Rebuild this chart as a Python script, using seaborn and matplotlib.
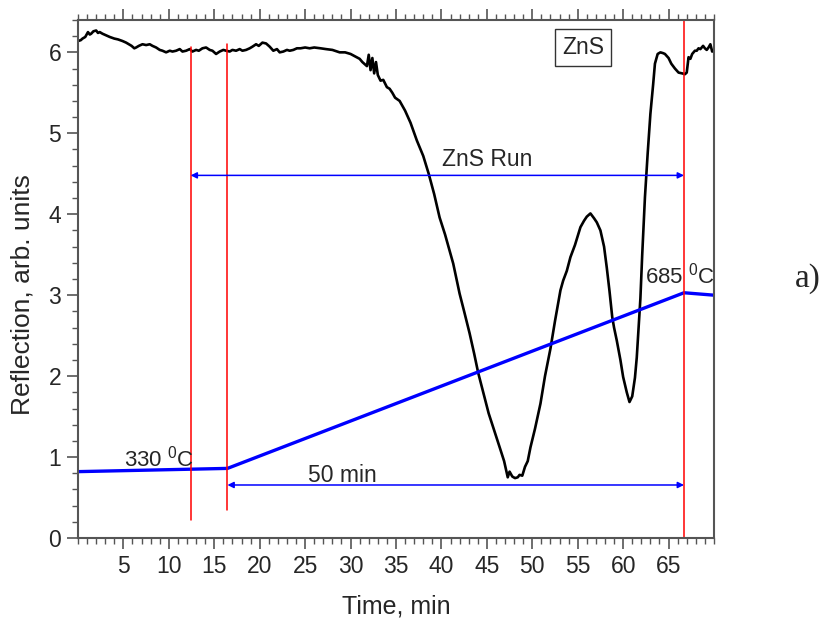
import matplotlib
matplotlib.use("Agg")
from matplotlib import pyplot as plt
from matplotlib.ticker import MultipleLocator, FixedLocator
import pandas as pd
import seaborn as sns

# reflection trace, (time in min, reflection) pairs
trace = [
    (0.0, 6.14), (0.3, 6.15), (0.5, 6.17), (0.8, 6.19), (1.1, 6.25), (1.3, 6.22),
    (1.45, 6.23), (1.7, 6.26), (2.0, 6.27), (2.2, 6.24), (2.4, 6.25), (2.7, 6.23),
    (3.1, 6.21), (3.5, 6.19), (4.0, 6.17), (4.4, 6.16), (4.9, 6.14), (5.3, 6.12),
    (5.6, 6.10), (5.9, 6.08), (6.2, 6.05), (6.4, 6.06), (6.7, 6.08), (7.1, 6.10),
    (7.5, 6.09), (7.9, 6.10), (8.2, 6.08), (8.6, 6.06), (9.0, 6.03), (9.3, 6.02),
    (9.7, 6.00), (10.1, 6.02), (10.4, 6.01), (10.8, 6.02), (11.2, 6.04), (11.5, 6.01),
    (11.9, 6.02), (12.3, 6.04), (12.6, 6.01), (13.0, 6.03), (13.3, 6.02), (13.7, 6.05),
    (14.1, 6.06), (14.5, 6.03), (14.8, 6.02), (15.2, 5.98), (15.6, 6.01), (16.0, 6.03),
    (16.3, 6.02), (16.7, 6.01), (17.0, 6.03), (17.4, 6.02), (17.8, 6.04), (18.1, 6.02),
    (18.5, 6.03), (18.9, 6.05), (19.2, 6.07), (19.6, 6.10), (19.9, 6.08), (20.3, 6.12),
    (20.7, 6.11), (21.1, 6.07), (21.5, 6.02), (21.9, 6.04), (22.2, 6.00), (22.6, 6.01),
    (23.0, 6.03), (23.3, 6.02), (23.7, 6.03), (24.1, 6.05), (24.5, 6.05), (25.0, 6.06),
    (25.5, 6.05), (26.0, 6.06), (26.7, 6.05), (27.3, 6.04), (28.0, 6.03), (28.8, 6.00),
    (29.4, 6.00), (30.0, 5.98), (30.5, 5.95), (31.0, 5.92), (31.3, 5.88), (31.6, 5.85),
    (31.8, 5.83), (32.0, 5.97), (32.2, 5.78), (32.4, 5.93), (32.6, 5.74), (32.8, 5.88),
    (33.0, 5.72), (33.3, 5.65), (33.6, 5.66), (34.0, 5.57), (34.3, 5.55), (34.6, 5.50),
    (34.9, 5.44), (35.4, 5.40), (36.0, 5.28), (36.6, 5.13), (37.3, 4.91), (38.0, 4.72),
    (38.6, 4.50), (39.2, 4.25), (39.8, 3.96), (40.4, 3.75), (40.9, 3.55), (41.3, 3.39),
    (42.0, 3.02), (42.5, 2.80), (43.1, 2.53), (43.6, 2.28), (44.05, 2.04), (44.6, 1.80),
    (45.2, 1.54), (45.9, 1.30), (46.5, 1.09), (46.9, 0.95), (47.3, 0.75), (47.5, 0.82),
    (47.8, 0.76), (48.1, 0.74), (48.4, 0.75), (48.6, 0.78), (48.9, 0.77), (49.2, 0.88),
    (49.5, 0.95), (49.8, 1.12), (50.3, 1.35), (50.9, 1.66), (51.4, 2.00), (52.0, 2.34),
    (52.5, 2.68), (53.1, 3.06), (53.4, 3.18), (53.8, 3.30), (54.2, 3.47), (54.7, 3.62),
    (55.3, 3.84), (55.7, 3.92), (56.0, 3.97), (56.4, 4.01), (56.8, 3.95), (57.1, 3.90),
    (57.5, 3.80), (57.9, 3.60), (58.2, 3.34), (58.5, 3.05), (58.8, 2.73), (59.0, 2.60),
    (59.3, 2.44), (59.7, 2.20), (60.0, 1.99), (60.4, 1.80), (60.7, 1.68), (61.0, 1.75),
    (61.3, 1.98), (61.5, 2.23), (61.9, 2.96), (62.1, 3.50), (62.4, 4.21), (62.7, 4.75),
    (63.0, 5.24), (63.3, 5.60), (63.5, 5.86), (63.8, 5.98), (64.1, 6.00), (64.4, 5.99),
    (64.6, 5.98), (65.0, 5.93), (65.3, 5.86), (65.7, 5.80), (66.1, 5.75), (66.5, 5.74),
    (66.8, 5.73), (67.0, 5.75), (67.2, 5.94), (67.4, 5.92), (67.6, 5.98), (67.9, 6.02),
    (68.1, 6.02), (68.3, 6.05), (68.5, 6.04), (68.8, 6.08), (69.0, 6.05), (69.2, 6.03),
    (69.4, 6.06), (69.6, 6.10), (69.8, 6.01), (70.0, 6.02),
]
time_min = [p[0] for p in trace]
reflection = [p[1] for p in trace]

# heater temperature ramp (drawn on the same scale)
ramp_time = [0.0, 16.45, 66.7, 70.0]
ramp_level = [0.82, 0.86, 3.03, 3.00]

# vertical markers
marker_time = [12.4, 16.45, 66.7]
marker_low = [0.22, 0.34, 0.0]
marker_high = [6.07, 6.10, 6.40]

# interval arrows: start, end, level
run_span = (12.4, 66.7, 4.48)
ramp_span = (16.45, 66.7, 0.655)

sns.set_style("ticks")
plt.rcParams["font.family"] = ["Liberation Sans", "DejaVu Sans"]
plt.rcParams["mathtext.fontset"] = "custom"
plt.rcParams["mathtext.rm"] = "Liberation Sans"

fig = plt.figure(figsize=(8.26, 6.24), dpi=100)
ax = fig.add_axes([0.0944, 0.1378, 0.77, 0.8302])

df = pd.DataFrame({"t": time_min, "r": reflection})
ramp = pd.DataFrame({"t": ramp_time, "r": ramp_level})
sns.lineplot(data=df, x="t", y="r", ax=ax, color="black", lw=1.9, sort=False)
sns.lineplot(data=ramp, x="t", y="r", ax=ax, color="#0000ff", lw=2.4, sort=False)

for t, lo, hi in zip(marker_time, marker_low, marker_high):
    ax.plot([t, t], [lo, hi], color="#ff0000", lw=1.1)

for x0, x1, y in (run_span, ramp_span):
    ax.annotate("", xy=(x1, y), xytext=(x0, y),
                arrowprops=dict(arrowstyle="<|-|>", color="#0000ff", lw=1.1,
                                mutation_scale=9, shrinkA=0, shrinkB=0))

ax.text(5.1, 0.88, "330 $^{\\mathrm{0}}$C", fontsize=16, ha="left", va="baseline")
ax.text(62.4, 3.14, "685 $^{\\mathrm{0}}$C", fontsize=16, ha="left", va="baseline")
ax.text(45.0, 4.60, "ZnS Run", fontsize=16.5, ha="center", va="baseline")
ax.text(25.3, 0.695, "50 min", fontsize=16.5, ha="left", va="baseline")
ax.text(55.6, 6.06, "ZnS", fontsize=16.5, ha="center", va="center",
        bbox=dict(boxstyle="square,pad=0.3", fc="white", ec="#333333", lw=1))
fig.text(0.978, 0.554, "a)", fontsize=24, family="Liberation Serif", ha="center", va="center")

ax.set_xlim(0, 70)
ax.set_ylim(0, 6.4)
ax.xaxis.set_major_locator(FixedLocator(list(range(5, 70, 5))))
ax.xaxis.set_minor_locator(MultipleLocator(1))
ax.yaxis.set_major_locator(FixedLocator([0, 1, 2, 3, 4, 5, 6]))
ax.yaxis.set_minor_locator(MultipleLocator(0.2))
ax.tick_params(axis="both", which="major", direction="out", length=8, width=1.2,
               color="#555555", labelsize=16.5, pad=4)
ax.tick_params(axis="both", which="minor", direction="out", length=4.5, width=1.0,
               color="#555555")
ax.tick_params(axis="x", which="both", top=True, bottom=True)
ax.tick_params(axis="y", which="both", right=False, left=True)
for s in ax.spines.values():
    s.set_color("#555555")
    s.set_linewidth(1.5)

ax.set_xlabel("Time, min", fontsize=18, labelpad=12)
ax.set_ylabel("Reflection, arb. units", fontsize=19)
ax.yaxis.set_label_coords(-0.068, 0.469)

fig.savefig("out.png", dpi=100)
